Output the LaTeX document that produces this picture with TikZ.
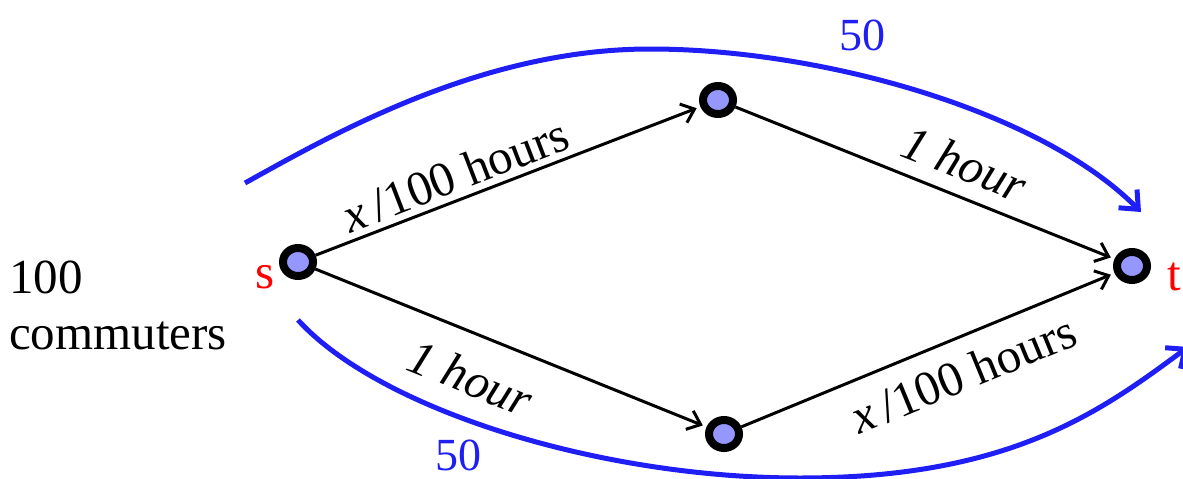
\documentclass[tikz,border=0pt]{standalone}
\usepackage{fontspec}
\setmainfont{Liberation Serif}
\usetikzlibrary{arrows.meta,shapes.geometric}
\definecolor{lav}{RGB}{150,150,255}
\definecolor{flowblue}{RGB}{30,30,245}
\begin{document}
\begin{tikzpicture}[x=1pt,y=-1pt,
 vtx/.style={ellipse,draw=black,line width=8pt,fill=lav,minimum width=30pt,minimum height=28pt,inner sep=0pt},
 edge/.style={line width=3pt,-{Straight Barb[length=12pt,width=20pt]},shorten >=4pt},
 flow/.style={line width=5pt,draw=flowblue,-{Straight Barb[length=15pt,width=26pt]}},
 big/.style={font=\fontsize{49}{56}\selectfont,inner sep=0pt},
 elab/.style={font=\fontsize{49}{56}\selectfont,inner sep=0pt,sloped},
 flab/.style={font=\fontsize{46}{52}\selectfont,text=flowblue,inner sep=0pt}]
\useasboundingbox (0,0) rectangle (1183,479);
\node[vtx] (s) at (298,262) {};
\node[vtx] (a) at (718,100) {};
\node[vtx] (b) at (724,434) {};
\node[vtx] (t) at (1132,266) {};
\node[big,text=red] (sl) at (265,277) {s};
\node[big,text=red] (tl) at (1174,277) {t};
\node[big,align=left,anchor=west] (com) at (9,305) {100\\commuters};
\draw[edge] (s) -- node[elab,pos=0.387,above=6pt] {\textit{x}\,/100 hours} (a);
\draw[edge] (a) -- node[elab,pos=0.573,above=14pt] {\textit{1 hour}} (t);
\draw[edge] (s) -- node[elab,pos=0.438,below=24pt] {\textit{1 hour}} (b);
\draw[edge] (b) -- node[elab,pos=0.559,below=17pt] {\textit{x}\,/100 hours} (t);
\coordinate (f1s) at (245,183);
\coordinate (f1m) at (650,49);
\coordinate (f1e) at (1141,212);
\coordinate (f2s) at (298,320);
\coordinate (f2m) at (800,478);
\coordinate (f2e) at (1188,347);
\draw[flow] (f1s) .. controls (330,136) and (480,49) .. (f1m) .. controls (820,49) and (1040,110) .. (f1e);
\draw[flow] (f2s) .. controls (380,410) and (600,478) .. (f2m) .. controls (1010,478) and (1100,412) .. (f2e);
\node[flab] (n1) at (862,35) {50};
\node[flab] (n2) at (458,455) {50};
\end{tikzpicture}
\end{document}
